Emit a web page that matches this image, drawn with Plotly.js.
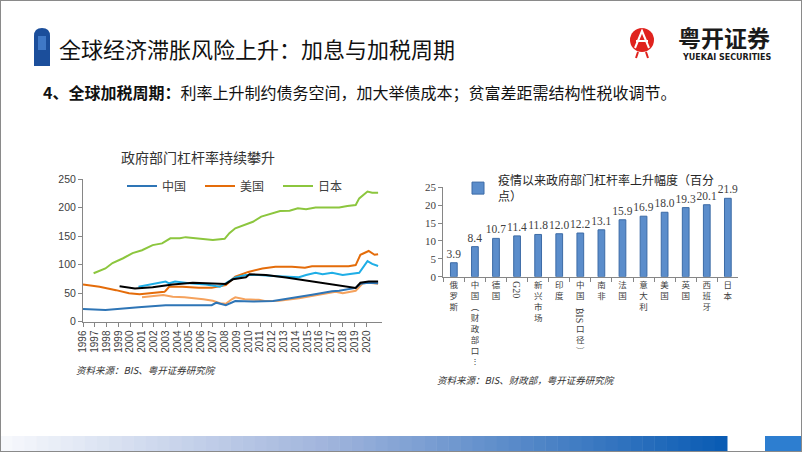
<!DOCTYPE html>
<html><head><meta charset="utf-8">
<script src="https://cdn.plot.ly/plotly-3.0.1.min.js"></script>
<style>html,body{margin:0;padding:0;background:#fff}#chart{width:802px;height:452px}</style>
</head><body><div id="chart"></div>
<script>
// ---- Left chart data: government leverage (% of GDP) ----
const chinaX = [1996.0,1997.9,2000.7,2003.0,2005.8,2006.9,2007.3,2008.1,2008.9,2010.4,2012.1,2013.7,2015.4,2017.1,2017.7,2019.1,2019.5,2020.2,2021.0];
const chinaY = [22,20,25,28.4,28.4,28.5,33,28.5,36,35,36,40.7,47,53,54,59,66,68,67];
const usX = [1996.0,1997.4,1998.8,1999.9,2000.8,2001.9,2002.9,2003.0,2003.3,2004.4,2005.8,2006.9,2008.1,2008.9,2010.0,2011.2,2012.3,2013.7,2014.8,2015.4,2016.5,2017.7,2018.5,2019.1,2019.5,2020.2,2020.7,2021.0];
const usY = [65,61,55,49.5,47.7,50.5,52,54,61,61,59,59,64,78.6,87,93,96,96,94.5,97,97,97,97,99,117,123.7,117,118];
const japanX = [1996.9,1997.9,1998.5,1999.4,2000.2,2001.0,2001.9,2002.7,2003.4,2004.2,2004.7,2005.8,2007.0,2008.0,2008.4,2008.9,2009.7,2010.4,2011.1,2012.1,2012.7,2013.5,2014.2,2014.9,2015.7,2016.6,2017.7,2018.4,2019.1,2019.4,2020.1,2020.5,2021.0];
const japanY = [84.6,93,102.6,111,120,125,134,137,146,146,148,146,143,145,155,163.5,169,175,184,190,194,194.5,198.6,197,200,200,200,202.6,204.4,216,228,226,226];
const chinaBroadX = [2000.7,2001.6,2003.0,2003.3,2003.8,2005.0,2006.4,2007.6,2008.1,2008.9,2009.8,2010.9,2012.1,2013.2,2014.3,2014.9,2015.7,2016.3,2017.1,2018.0,2018.8,2019.4,2020.1,2020.5,2021.0];
const chinaBroadY = [61,65,70,67,70,67,65,61,67,77.5,81.5,81.5,80,78.6,77.5,81.5,85.6,82.8,85.6,81.5,84.5,85.6,106,101,97.4];
const blackX = [1999.1,2000.4,2001.9,2003.6,2005.3,2007.0,2008.1,2008.7,2009.8,2010.1,2011.5,2013.2,2014.9,2016.3,2017.7,2019.1,2019.5,2020.2,2021.0];
const blackY = [62,58,60,65,68,66,66,74,77.5,83,81.5,77,71.6,68,63,59,68,70,70];
const usAltX = [2001.0,2002.8,2003.6,2004.6,2006.2,2007.0,2007.6,2008.1,2008.6,2008.9,2009.7,2010.9,2011.4,2012.6,2014.3,2016.0,2017.4,2018.0,2019.1,2019.7,2020.2,2021.0];
const usAltY = [42.5,46.5,43.5,42.5,39,36.5,32,31,39,42.5,39,38,36,36.5,40.7,46.5,52,49.5,54,67,68,66];
const yearTicks = [1996,1997,1998,1999,2000,2001,2002,2003,2004,2005,2006,2007,2008,2009,2010,2011,2012,2013,2014,2015,2016,2017,2018,2019,2020];

// ---- Right chart data ----
const categories = ["俄罗斯","中国（财政部口径）","德国","G20","新兴市场","印度","中国（BIS口径）","南非","法国","意大利","美国","英国","西班牙","日本"];
const increase = [3.9,8.4,10.7,11.4,11.8,12.0,12.2,13.1,15.9,16.9,18.0,19.3,20.1,21.9];
const catLabels = ["俄<br>罗<br>斯","中<br>国<br>︵<br>财<br>政<br>部<br>口<br>︙","德<br>国","","新<br>兴<br>市<br>场","印<br>度","中<br>国<br>︵<br>\u00a0<br>口<br>径<br>︶","南<br>非","法<br>国","意<br>大<br>利","美<br>国","英<br>国","西<br>班<br>牙","日<br>本"];

const W=802,H=452;
const px=x=>x/W, py=y=>1-y/H;
const CJK='"Noto Sans CJK SC", "Noto Sans", sans-serif';
const SERIF='"Liberation Serif", "Noto Sans CJK SC", serif';

const ln=(x,y,name,color,show)=>({type:'scatter',mode:'lines',x:x,y:y,name:name,showlegend:show,legend:'legend',
  line:{color:color,width:2},xaxis:'x',yaxis:'y',hoverinfo:'skip'});
const data=[
  ln(usAltX,usAltY,'美国2','#F5A25D',false),
  ln(chinaX,chinaY,'中国','#2E75B6',true),
  ln(usX,usY,'美国','#E46C0A',true),
  ln(japanX,japanY,'日本','#8CC63E',true),
  ln(chinaBroadX,chinaBroadY,'中国2','#1FAEE6',false),
  ln(blackX,blackY,'其他','#000000',false),
  {type:'bar',x:categories,y:increase,xaxis:'x2',yaxis:'y2',legend:'legend2',
   name:'疫情以来政府部门杠杆率上升幅度（百分<br>点）',
   marker:{color:'#5B8DCB',line:{color:'#3C6BA6',width:1}},
   texttemplate:'%{y:.1f}',textposition:'outside',constraintext:'none',cliponaxis:false,
   textfont:{family:SERIF,size:11.5,color:'#404040'},hoverinfo:'skip'}
];

const shapes=[];
// bottom gradient bar
const N=60, gx0=0, gx1=727;
function lerp(a,b,t){return Math.round(a+(b-a)*t);}
for(let i=0;i<N;i++){
  const t=i/(N-1);
  let c;
  if(t<0.45){const u=t/0.45;c=[lerp(246,160,u),lerp(248,180,u),lerp(252,220,u)];}
  else{const u=(t-0.45)/0.55;c=[lerp(160,10,u),lerp(180,92,u),lerp(220,180,u)];}
  shapes.push({type:'rect',xref:'paper',yref:'paper',x0:px(gx0+(gx1-gx0)*i/N),x1:px(gx0+(gx1-gx0)*(i+1)/N+0.5),
    y0:py(452),y1:py(436),line:{width:0},fillcolor:`rgb(${c[0]},${c[1]},${c[2]})`,layer:'below'});
}
shapes.push({type:'rect',xref:'paper',yref:'paper',x0:px(765),x1:px(802),y0:py(452),y1:py(436),line:{width:0},fillcolor:'#2D7ED0'});
// header pill
shapes.push({type:'path',xref:'paper',yref:'paper',
  path:`M${px(34)},${py(36)} Q${px(34)},${py(28)} ${px(42)},${py(28)} Q${px(50)},${py(28)} ${px(50)},${py(36)} L${px(50)},${py(66)} L${px(34)},${py(66)} Z`,
  fillcolor:'#1B4E9B',line:{width:0}});
shapes.push({type:'rect',xref:'paper',yref:'paper',x0:px(38),x1:px(46),y0:py(50),y1:py(36),fillcolor:'#3F78C6',line:{width:0}});
// logo
shapes.push({type:'circle',xref:'paper',yref:'paper',x0:px(630),x1:px(654),y0:py(52),y1:py(28),fillcolor:'#E0231E',line:{width:0}});
shapes.push({type:'path',xref:'paper',yref:'paper',path:`M${px(635)},${py(48)} L${px(642)},${py(31)} L${px(649)},${py(48)} M${px(636)},${py(41)} L${px(648)},${py(41)}`,line:{color:'#fff',width:2}});
shapes.push({type:'path',xref:'paper',yref:'paper',path:`M${px(638)},${py(52)} L${px(636)},${py(58)} M${px(646)},${py(52)} L${px(648)},${py(58)}`,line:{color:'#E0231E',width:2}});
// frame
shapes.push({type:'rect',xref:'paper',yref:'paper',x0:0,x1:1,y0:0,y1:1,line:{color:'#8a8a8a',width:2}});

const annotations=[
  {xref:'paper',yref:'paper',x:px(57),y:py(48),xanchor:'left',yanchor:'middle',showarrow:false,
   text:'全球经济滞胀风险上升：加息与加税周期',font:{family:CJK,size:22,color:'#111'}},
  {xref:'paper',yref:'paper',x:px(41),y:py(92),xanchor:'left',yanchor:'middle',showarrow:false,
   text:'<b>4、全球加税周期：</b>利率上升制约债务空间，加大举债成本；贫富差距需结构性税收调节。',font:{family:CJK,size:16,color:'#111'}},
  {xref:'paper',yref:'paper',x:px(676),y:py(37),xanchor:'left',yanchor:'middle',showarrow:false,
   text:'<b>粤开证券</b>',font:{family:CJK,size:23,color:'#1a1a1a'}},
  {xref:'paper',yref:'paper',x:px(727),y:py(57),xanchor:'center',yanchor:'middle',showarrow:false,
   text:'<b>YUEKAI SECURITIES</b>',font:{family:'"DejaVu Sans", sans-serif',size:8,color:'#1a1a1a'}},
  {xref:'paper',yref:'paper',x:px(198),y:py(157),xanchor:'center',yanchor:'middle',showarrow:false,
   text:'政府部门杠杆率持续攀升',font:{family:CJK,size:14,color:'#333'}},
  {xref:'paper',yref:'paper',x:px(74),y:py(370),xanchor:'left',yanchor:'middle',showarrow:false,
   text:'<i>资料来源：BIS、粤开证券研究院</i>',font:{family:CJK,size:9.5,color:'#333'}},
  {xref:'paper',yref:'paper',x:px(435),y:py(380),xanchor:'left',yanchor:'middle',showarrow:false,
   text:'<i>资料来源：BIS、财政部，粤开证券研究院</i>',font:{family:CJK,size:9.5,color:'#333'}},
  {xref:'x2',yref:'paper',x:3,y:py(289),xanchor:'center',yanchor:'middle',showarrow:false,textangle:90,
   text:'G20',font:{family:SERIF,size:10,color:'#404040'}},
  {xref:'x2',yref:'paper',x:6,y:py(316),xanchor:'center',yanchor:'middle',showarrow:false,textangle:90,
   text:'BIS',font:{family:SERIF,size:10,color:'#404040'}}
];

const axLine={showline:true,linecolor:'#868686',linewidth:1,showgrid:false,zeroline:false,ticks:'outside',ticklen:4,tickcolor:'#868686'};
const layout={
  width:W,height:H,margin:{l:0,r:0,t:0,b:0},paper_bgcolor:'#fff',plot_bgcolor:'rgba(0,0,0,0)',
  showlegend:true,
  xaxis:Object.assign({},axLine,{domain:[px(83),px(382)],range:[1996,2021.33],tickvals:yearTicks,ticktext:yearTicks.map(String),
    tickangle:-90,tickfont:{family:'"Liberation Sans", Arial, sans-serif',size:10,color:'#404040'},anchor:'y'}),
  yaxis:Object.assign({},axLine,{domain:[py(321.5),py(179)],range:[0,250],dtick:50,
    tickfont:{family:'"Liberation Sans", Arial, sans-serif',size:10.5,color:'#404040'},anchor:'x'}),
  xaxis2:Object.assign({},axLine,{domain:[px(443.3),px(738.4)],type:'category',tickvals:categories,ticktext:catLabels,
    tickson:'boundaries',tickangle:0,tickfont:{family:CJK,size:8.5,color:'#404040'},anchor:'y2'}),
  yaxis2:Object.assign({},axLine,{domain:[py(276.7),py(187.2)],range:[0,25],dtick:5,
    tickfont:{family:SERIF,size:11,color:'#404040'},anchor:'x2'}),
  bargap:0.68,
  legend:{orientation:'h',x:px(122),y:py(186),xanchor:'left',yanchor:'middle',bgcolor:'rgba(0,0,0,0)',
    font:{family:CJK,size:12,color:'#404040'},entrywidth:33,entrywidthmode:'pixels',itemwidth:30},
  legend2:{x:px(458),y:py(166),xanchor:'left',yanchor:'top',bgcolor:'rgba(0,0,0,0)',
    font:{family:CJK,size:12,color:'#262626'},itemwidth:30},
  shapes:shapes,annotations:annotations
};
Plotly.newPlot('chart',data,layout,{staticPlot:true,displayModeBar:false});
</script></body></html>
